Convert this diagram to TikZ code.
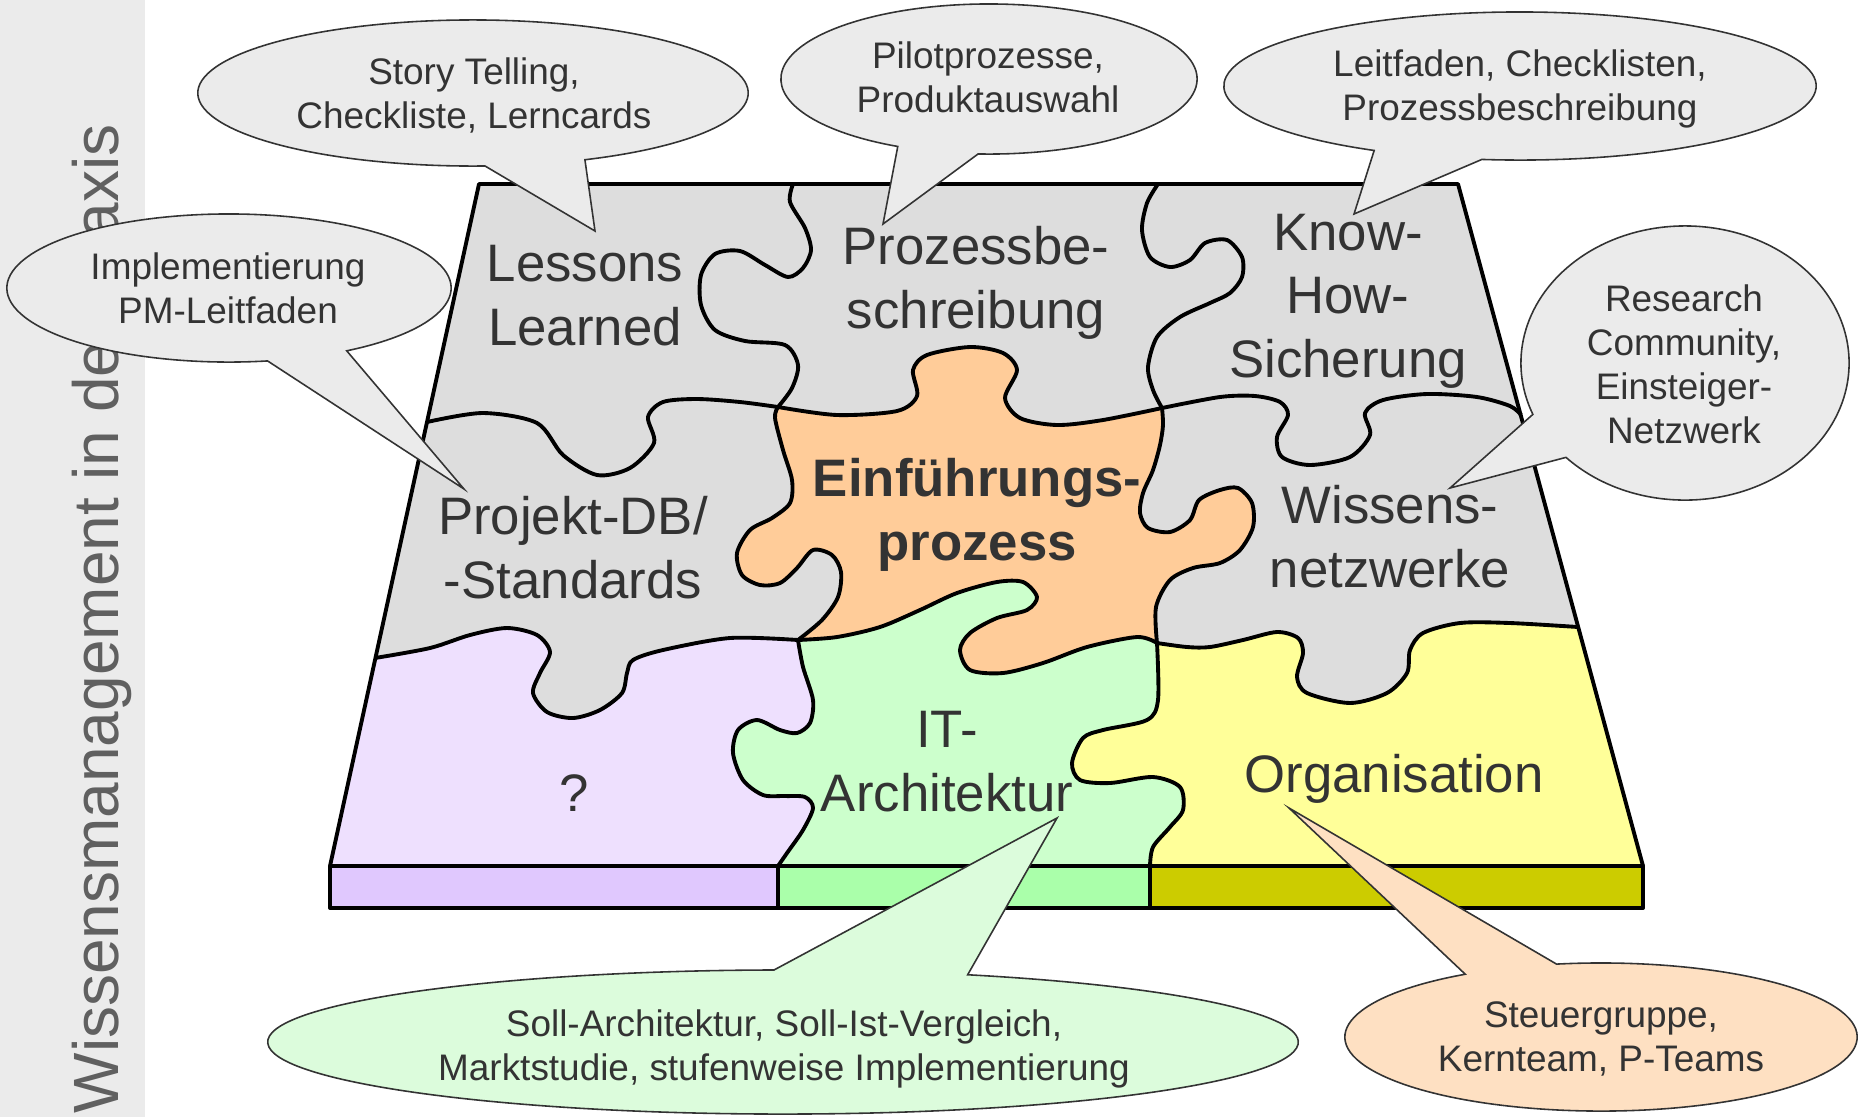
\documentclass[tikz,border=0pt]{standalone}
\usepackage{fontspec}
\setmainfont{Liberation Sans}
\usetikzlibrary{calc}
\definecolor{ink}{HTML}{333333}
\definecolor{sidebar}{HTML}{EBEBEB}
\definecolor{sidetext}{HTML}{606060}
\definecolor{piecegray}{HTML}{DDDDDD}
\definecolor{pieceorange}{HTML}{FFCC99}
\definecolor{piecelilac}{HTML}{EEE0FE}
\definecolor{piecegreen}{HTML}{CCFFCC}
\definecolor{pieceyellow}{HTML}{FFFF99}
\definecolor{barlilac}{HTML}{E0C8FE}
\definecolor{bargreen}{HTML}{AAFFAA}
\definecolor{barolive}{HTML}{CCCC00}
\definecolor{bubblegray}{HTML}{EBEBEB}
\definecolor{bubblegreen}{HTML}{DCFCDC}
\definecolor{bubblepeach}{HTML}{FEE0C2}
% cut lines between the pieces, in pixel coordinates
\newcommand\hcutA{-- plot[smooth] coordinates {(427,422) (483,413) (537,423) (563,455) (597,475) (630,468) (654,443) (648,417) (663,402) (697,399) (740,402) (778,407)}}
\newcommand\hcutB{-- plot[smooth] coordinates {(778,407) (837,415) (897,411) (917,396) (913,370) (927,355) (970,347) (1003,353) (1017,370) (1005,398) (1020,418) (1057,425) (1103,420) (1162,408)}}
\newcommand\hcutC{-- plot[smooth] coordinates {(1162,408) (1220,397) (1255,396) (1280,402) (1288,415) (1277,437) (1282,457) (1310,465) (1350,457) (1370,435) (1365,413) (1383,400) (1427,394) (1477,397) (1510,406) (1521,415)}}
\newcommand\hcutD{-- plot[smooth] coordinates {(1578,627) (1510,623) (1460,623) (1423,633) (1410,650) (1407,673) (1387,693) (1350,703) (1307,693) (1297,677) (1303,653) (1298,638) (1277,632) (1243,640) (1210,647) (1187,647) (1157,643)}}
\newcommand\hcutE{-- plot[smooth] coordinates {(1157,643) (1137,637) (1087,647) (1043,663) (1003,673) (970,670) (960,650) (970,633) (997,618) (1027,610) (1037,597) (1023,582) (997,582) (957,593) (920,610) (880,627) (837,637) (798,640)}}
\newcommand\hcutF{-- plot[smooth] coordinates {(798,640) (730,638) (663,650) (633,660) (627,673) (622,693) (600,710) (573,718) (547,712) (533,693) (540,673) (550,652) (537,635) (507,628) (470,635) (430,648) (375,658)}}
\newcommand\vcutA{-- plot[smooth] coordinates {(793,184) (790,202) (805,228) (811,250) (803,268) (788,277) (765,265) (740,251) (715,254) (701,275) (701,305) (715,330) (745,341) (785,345) (798,365) (792,388) (778,407)}}
\newcommand\vcutB{-- plot[smooth] coordinates {(1158,184) (1147,203) (1142,230) (1150,257) (1170,267) (1190,260) (1205,243) (1227,240) (1242,257) (1242,277) (1230,293) (1210,303) (1180,317) (1157,337) (1148,367) (1153,390) (1162,408)}}
\newcommand\vcutC{-- plot[smooth] coordinates {(798,640) (822,620) (838,597) (841,572) (832,555) (813,550) (797,568) (780,583) (760,585) (742,575) (737,553) (750,530) (772,518) (790,503) (792,480) (783,450) (775,418) (778,407)}}
\newcommand\vcutD{-- plot[smooth] coordinates {(1162,408) (1163,425) (1160,445) (1153,470) (1143,493) (1140,513) (1148,528) (1170,532) (1190,520) (1199,500) (1220,490) (1238,488) (1252,503) (1253,527) (1240,550) (1220,563) (1193,568) (1170,580) (1156,607) (1157,643)}}
\newcommand\vcutE{-- plot[smooth] coordinates {(798,640) (803,667) (813,700) (810,723) (797,733) (780,730) (757,720) (738,730) (733,753) (743,780) (763,795) (785,796) (805,797) (813,808) (803,830) (787,853) (778,866)}}
\newcommand\vcutF{-- plot[smooth] coordinates {(1157,643) (1158,700) (1147,720) (1103,730) (1083,738) (1072,763) (1080,780) (1110,783) (1153,777) (1180,787) (1183,810) (1170,827) (1153,847) (1150,866)}}
\begin{document}
\begin{tikzpicture}[x=0.01cm, y=-0.01cm,
    cut/.style={line width=1.1pt, line join=round},
    bubble/.style={draw=ink, line width=0.45pt},
    piece/.style={font=\fontsize{15}{18}\selectfont, text=ink, align=center, inner sep=0pt, anchor=base},
    note/.style={font=\fontsize{10.5}{12.5}\selectfont, text=ink, align=center, inner sep=0pt, anchor=base}]
    \useasboundingbox (0,0) rectangle (1864,1117);
    \fill[sidebar] (0,0) rectangle (145,1117);
    \node[rotate=90, anchor=base west, inner sep=0pt, text=sidetext, font=\fontsize{18.2}{22}\selectfont] (title) at (118,1114) {Wissensmanagement in der Praxis};

    \fill[piecegray] (479,184) -- (1458,184) -- (1643,866) -- (330,866) -- cycle;
    \fill[piecelilac] (330,866) -- (1643,866) -- (1578,627) \hcutD \hcutE \hcutF -- cycle;
    \fill[piecegreen] (798,640) \vcutE -- (1643,866) -- (1578,627) \hcutD \hcutE -- cycle;
    \fill[pieceyellow] (1157,643) \vcutF -- (1643,866) -- (1578,627) \hcutD -- cycle;
    \fill[pieceorange] (798,640) \vcutC \hcutB \vcutD \hcutE -- cycle;

    \draw[cut] (427,422) \hcutA \hcutB \hcutC;
    \draw[cut] (1578,627) \hcutD \hcutE \hcutF;
    \draw[cut] (793,184) \vcutA;
    \draw[cut] (1158,184) \vcutB;
    \draw[cut] (798,640) \vcutC;
    \draw[cut] (1162,408) \vcutD;
    \draw[cut] (798,640) \vcutE;
    \draw[cut] (1157,643) \vcutF;
    \draw[cut] (330,866) -- (479,184) -- (1458,184) -- (1643,866);
    \draw[cut, fill=barlilac] (330,866) rectangle (778,908);
    \draw[cut, fill=bargreen] (778,866) rectangle (1150,908);
    \draw[cut, fill=barolive] (1150,866) rectangle (1643,908);

    \coordinate (story) at (473,93);
    \coordinate (storytip) at (595,231);
    \draw[bubble, fill=bubblegray] ($(story)+(-87.5:2.75cm and 0.73cm)$) -- (storytip) -- ($(story)+(-66:2.75cm and 0.73cm)$) arc[start angle=-66, end angle=272.5, x radius=2.75cm, y radius=0.73cm] -- cycle;
    \coordinate (implem) at (229,288);
    \coordinate (implemtip) at (464,489);
    \draw[bubble, fill=bubblegray] ($(implem)+(-80:2.22cm and 0.74cm)$) -- (implemtip) -- ($(implem)+(-58:2.22cm and 0.74cm)$) arc[start angle=-58, end angle=280, x radius=2.22cm, y radius=0.74cm] -- cycle;
    \coordinate (pilot) at (989,79);
    \coordinate (pilottip) at (883,224);
    \draw[bubble, fill=bubblegray] ($(pilot)+(-116:2.08cm and 0.75cm)$) -- (pilottip) -- ($(pilot)+(-93:2.08cm and 0.75cm)$) arc[start angle=-93, end angle=244, x radius=2.08cm, y radius=0.75cm] -- cycle;
    \coordinate (leitf) at (1520,86);
    \coordinate (leitftip) at (1354,214);
    \draw[bubble, fill=bubblegray] ($(leitf)+(-119.5:2.96cm and 0.74cm)$) -- (leitftip) -- ($(leitf)+(-97.4:2.96cm and 0.74cm)$) arc[start angle=-97.4, end angle=240.5, x radius=2.96cm, y radius=0.74cm] -- cycle;
    \coordinate (research) at (1685,363);
    \coordinate (researchtip) at (1450,488);
    \draw[bubble, fill=bubblegray] ($(research)+(-158:1.64cm and 1.37cm)$) -- (researchtip) -- ($(research)+(-136.5:1.64cm and 1.37cm)$) arc[start angle=-136.5, end angle=202, x radius=1.64cm, y radius=1.37cm] -- cycle;
    \coordinate (soll) at (783,1042);
    \coordinate (solltip) at (1057,818);
    \draw[bubble, fill=bubblegreen] ($(soll)+(69:5.15cm and 0.72cm)$) -- (solltip) -- ($(soll)+(91:5.15cm and 0.72cm)$) arc[start angle=91, end angle=429, x radius=5.15cm, y radius=0.72cm] -- cycle;
    \coordinate (steuer) at (1601,1037);
    \coordinate (steuertip) at (1289,808);
    \draw[bubble, fill=bubblepeach] ($(steuer)+(100:2.56cm and 0.74cm)$) -- (steuertip) -- ($(steuer)+(122:2.56cm and 0.74cm)$) arc[start angle=122, end angle=460, x radius=2.56cm, y radius=0.74cm] -- cycle;

    \node[piece] (lessons) at (585,345) {Lessons\\Learned};
    \node[piece] (prozess) at (976,328) {Prozessbe-\\schreibung};
    \node[piece] (knowhow) at (1348,377) {Know-\\How-\\Sicherung};
    \node[piece] (projekt) at (573,598) {Projekt-DB/\\-Standards};
    \node[piece, font=\fontsize{15}{18}\selectfont\bfseries] (einf) at (977,560) {Einführungs-\\prozess};
    \node[piece] (wissens) at (1390,587) {Wissens-\\netzwerke};
    \node[piece] (quest) at (574,811) {?};
    \node[piece] (itarch) at (947,811) {IT-\\Architektur};
    \node[piece] (orga) at (1394,792) {Organisation};

    \node[note] (storytext) at (474,128) {Story Telling,\\Checkliste, Lerncards};
    \node[note] (implemtext) at (228,323) {Implementierung\\PM-Leitfaden};
    \node[note] (pilottext) at (988,112) {Pilotprozesse,\\Produktauswahl};
    \node[note] (leitftext) at (1520,120) {Leitfaden, Checklisten,\\Prozessbeschreibung};
    \node[note] (researchtext) at (1684,443) {Research\\Community,\\Einsteiger-\\Netzwerk};
    \node[note] (solltext) at (784,1080) {Soll-Architektur, Soll-Ist-Vergleich,\\Marktstudie, stufenweise Implementierung};
    \node[note] (steuertext) at (1601,1071) {Steuergruppe,\\Kernteam, P-Teams};
\end{tikzpicture}
\end{document}
